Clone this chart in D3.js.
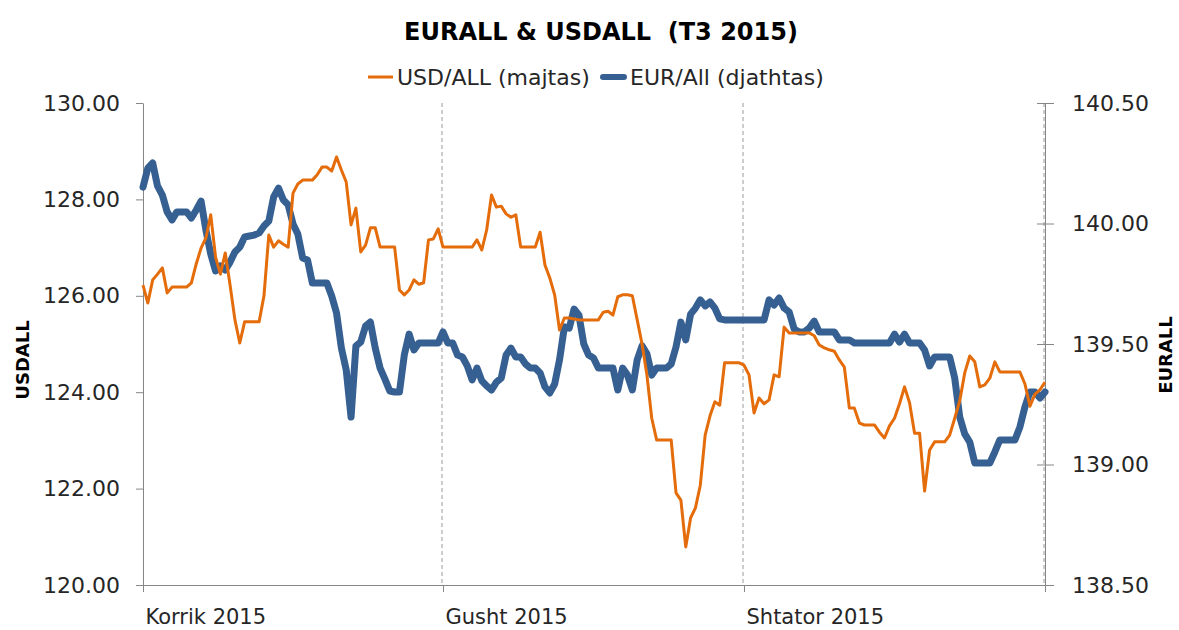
<!DOCTYPE html>
<html>
<head>
<meta charset="utf-8">
<script src="https://cdn.jsdelivr.net/npm/d3@7"></script>
<style>
  body { margin: 0; background: #fff; }
  text { font-family: "DejaVu Sans", sans-serif; fill: #262626; }
</style>
</head>
<body>
<div id="chart"></div>
<script>
// readings every 12 hours, 1 Jul 2015 .. 1 Oct 2015
var startDate = new Date(2015, 6, 1);
var stepHours = 12;
var usdAll = [
  126.22, 125.85, 126.33, 126.45, 126.58, 126.06, 126.18, 126.18, 126.18, 126.18,
  126.27, 126.66, 126.99, 127.20, 127.68, 126.80, 126.45, 126.89, 126.22, 125.50,
  125.02, 125.46, 125.46, 125.46, 125.46, 126.00, 127.26, 127.01, 127.14, 127.07,
  127.01, 128.13, 128.32, 128.40, 128.40, 128.40, 128.51, 128.67, 128.67, 128.59,
  128.88, 128.61, 128.36, 127.47, 127.82, 126.91, 127.05, 127.41, 127.41, 127.01,
  127.01, 127.01, 127.01, 126.12, 126.02, 126.12, 126.33, 126.24, 126.27, 127.16,
  127.18, 127.39, 127.01, 127.01, 127.01, 127.01, 127.01, 127.01, 127.01, 127.16,
  126.95, 127.37, 128.09, 127.84, 127.86, 127.70, 127.63, 127.68, 127.01, 127.01,
  127.01, 127.01, 127.32, 126.64, 126.37, 126.02, 125.29, 125.54, 125.54, 125.52,
  125.50, 125.50, 125.50, 125.50, 125.50, 125.66, 125.68, 125.60, 125.98, 126.02,
  126.02, 126.00, 125.50, 125.00, 124.36, 123.46, 123.01, 123.01, 123.01, 123.01,
  121.91, 121.76, 120.79, 121.39, 121.60, 122.07, 123.11, 123.51, 123.80, 123.73,
  124.61, 124.61, 124.61, 124.61, 124.56, 124.36, 123.57, 123.88, 123.76, 123.84,
  124.36, 124.32, 125.35, 125.23, 125.23, 125.23, 125.23, 125.23, 125.17, 124.98,
  124.92, 124.88, 124.85, 124.67, 124.52, 123.67, 123.67, 123.36, 123.32, 123.32,
  123.32, 123.17, 123.05, 123.30, 123.46, 123.76, 124.11, 123.78, 123.15, 123.15,
  121.95, 122.80, 122.97, 122.97, 122.97, 123.11, 123.46, 123.82, 124.40, 124.75,
  124.63, 124.11, 124.15, 124.29, 124.63, 124.42, 124.42, 124.42, 124.42, 124.42,
  124.17, 123.71, 123.96, 124.05, 124.21
];
var eurAll = [
  140.151, 140.230, 140.251, 140.156, 140.118, 140.048, 140.015, 140.048, 140.048, 140.048,
  140.023, 140.056, 140.093, 139.973, 139.873, 139.803, 139.824, 139.807, 139.840, 139.882,
  139.902, 139.944, 139.948, 139.952, 139.961, 139.990, 140.010, 140.110, 140.147, 140.098,
  140.077, 139.998, 139.956, 139.857, 139.849, 139.753, 139.753, 139.753, 139.753, 139.699,
  139.629, 139.483, 139.392, 139.197, 139.492, 139.508, 139.575, 139.591, 139.483, 139.400,
  139.354, 139.305, 139.301, 139.301, 139.454, 139.541, 139.475, 139.504, 139.504, 139.504,
  139.504, 139.504, 139.550, 139.504, 139.504, 139.454, 139.446, 139.409, 139.351, 139.400,
  139.347, 139.326, 139.309, 139.342, 139.359, 139.454, 139.483, 139.446, 139.446, 139.417,
  139.400, 139.400, 139.380, 139.322, 139.297, 139.334, 139.434, 139.571, 139.566, 139.645,
  139.620, 139.500, 139.454, 139.442, 139.400, 139.400, 139.400, 139.400, 139.309, 139.400,
  139.371, 139.309, 139.434, 139.492, 139.459, 139.371, 139.400, 139.400, 139.400, 139.417,
  139.488, 139.591, 139.517, 139.624, 139.649, 139.683, 139.658, 139.674, 139.649, 139.604,
  139.600, 139.600, 139.600, 139.600, 139.600, 139.600, 139.600, 139.600, 139.600, 139.683,
  139.662, 139.691, 139.649, 139.633, 139.562, 139.550, 139.550, 139.566, 139.595, 139.550,
  139.550, 139.550, 139.550, 139.517, 139.517, 139.517, 139.504, 139.504, 139.504, 139.504,
  139.504, 139.504, 139.504, 139.504, 139.541, 139.508, 139.541, 139.504, 139.504, 139.504,
  139.475, 139.409, 139.446, 139.446, 139.446, 139.446, 139.359, 139.197, 139.127, 139.093,
  139.006, 139.006, 139.006, 139.006, 139.052, 139.102, 139.102, 139.102, 139.102, 139.156,
  139.239, 139.301, 139.301, 139.276, 139.301
];
var monthStarts = [new Date(2015, 6, 1), new Date(2015, 7, 1), new Date(2015, 8, 1), new Date(2015, 9, 1)];
var monthLabels = ['Korrik 2015', 'Gusht 2015', 'Shtator 2015'];
var usdTicks = [120, 122, 124, 126, 128, 130];
var eurTicks = [138.5, 139, 139.5, 140, 140.5];

var chartWidth = 1179;
var chartHeight = 630;
var plotLeft = 143;
var plotRight = 1045;
var plotTop = 103;
var plotBottom = 585;

var data = usdAll.map(function(d, i) {
  return {date: d3.timeHour.offset(startDate, i * stepHours), usd: d, eur: eurAll[i]};
});

var svg = d3.select('#chart')
    .append('svg')
    .attr('width', chartWidth)
    .attr('height', chartHeight);

// Scales
var scaleX = d3.scaleTime()
    .domain(monthStarts)
    .range([plotLeft, 443, 744, plotRight]);

var scaleUsd = d3.scaleLinear()
    .domain([120, 130])
    .range([plotBottom, plotTop]);

var scaleEur = d3.scaleLinear()
    .domain([138.5, 140.5])
    .range([plotBottom, plotTop]);

// Gridlines
svg.append('g')
    .selectAll('line')
    .data(monthStarts.slice(1))
    .enter()
    .append('line')
    .attr('x1', function(d) { return scaleX(d) - 1; })
    .attr('x2', function(d) { return scaleX(d) - 1; })
    .attr('y1', plotTop)
    .attr('y2', plotBottom)
    .attr('stroke', '#9a9a9a')
    .attr('stroke-dasharray', '4,3');

// Axes
var fmt = d3.format('.2f');

var axisLeft = d3.axisLeft(scaleUsd)
    .tickValues(usdTicks)
    .tickFormat(fmt)
    .tickSizeInner(7)
    .tickSizeOuter(0)
    .tickPadding(16);

svg.append('g')
    .attr('class', 'y-axis')
    .attr('transform', 'translate(' + plotLeft + ',0)')
    .call(axisLeft);

var axisRight = d3.axisRight(scaleEur)
    .tickValues(eurTicks)
    .tickFormat(fmt)
    .tickSizeInner(9)
    .tickSizeOuter(0)
    .tickPadding(18);

svg.append('g')
    .attr('class', 'y-axis-right')
    .attr('transform', 'translate(' + plotRight + ',0)')
    .call(axisRight)
    .selectAll('.tick line')
    .attr('x1', -8);

var axisX = d3.axisBottom(scaleX)
    .tickValues(monthStarts)
    .tickFormat(function(d, i) { return monthLabels[i] || ''; })
    .tickSizeInner(7)
    .tickSizeOuter(0)
    .tickPadding(17);

svg.append('g')
    .attr('class', 'x-axis')
    .attr('transform', 'translate(0,' + plotBottom + ')')
    .call(axisX)
    .selectAll('text')
    .attr('text-anchor', 'start')
    .attr('dx', 2);

svg.selectAll('.domain, .tick line').attr('stroke', '#868686');
svg.selectAll('.y-axis .tick text, .y-axis-right .tick text')
    .style('font-size', '22px');
svg.selectAll('.x-axis .tick text')
    .style('font-size', '21px');
svg.selectAll('.tick text')
    .style('font-family', '"DejaVu Sans", sans-serif')
    .attr('fill', '#262626');

// Axis titles
svg.append('text')
    .attr('transform', 'translate(29,360) rotate(-90)')
    .attr('text-anchor', 'middle')
    .style('font-size', '18px')
    .style('font-weight', 'bold')
    .style('fill', '#000')
    .text('USDALL');

svg.append('text')
    .attr('transform', 'translate(1172,355) rotate(-90)')
    .attr('text-anchor', 'middle')
    .style('font-size', '18px')
    .style('font-weight', 'bold')
    .style('fill', '#000')
    .text('EURALL');

// Lines
var lineUsd = d3.line()
    .x(function(d) { return scaleX(d.date); })
    .y(function(d) { return scaleUsd(d.usd); });

var lineEur = d3.line()
    .x(function(d) { return scaleX(d.date); })
    .y(function(d) { return scaleEur(d.eur); });

svg.append('path')
    .datum(data)
    .attr('d', lineEur)
    .attr('fill', 'none')
    .attr('stroke', '#376092')
    .attr('stroke-width', 7)
    .attr('stroke-linejoin', 'round')
    .attr('stroke-linecap', 'round');

svg.append('path')
    .datum(data)
    .attr('d', lineUsd)
    .attr('fill', 'none')
    .attr('stroke', '#e46c0a')
    .attr('stroke-width', 3)
    .attr('stroke-linejoin', 'round');

// Title
svg.append('text')
    .attr('x', 601)
    .attr('y', 40)
    .attr('text-anchor', 'middle')
    .style('font-size', '24px')
    .style('font-weight', 'bold')
    .style('white-space', 'pre')
    .style('fill', '#000')
    .text('EURALL & USDALL  (T3 2015)');

// Legend
var legend = svg.append('g');
legend.append('line')
    .attr('x1', 368).attr('x2', 393)
    .attr('y1', 77).attr('y2', 77)
    .attr('stroke', '#e46c0a')
    .attr('stroke-width', 3);
legend.append('text')
    .attr('x', 397).attr('y', 85)
    .style('font-size', '22px')
    .text('USD/ALL (majtas)');
legend.append('line')
    .attr('x1', 603).attr('x2', 624)
    .attr('y1', 77).attr('y2', 77)
    .attr('stroke', '#376092')
    .attr('stroke-width', 6)
    .attr('stroke-linecap', 'round');
legend.append('text')
    .attr('x', 630).attr('y', 85)
    .style('font-size', '22px')
    .text('EUR/All (djathtas)');
</script>
</body>
</html>
